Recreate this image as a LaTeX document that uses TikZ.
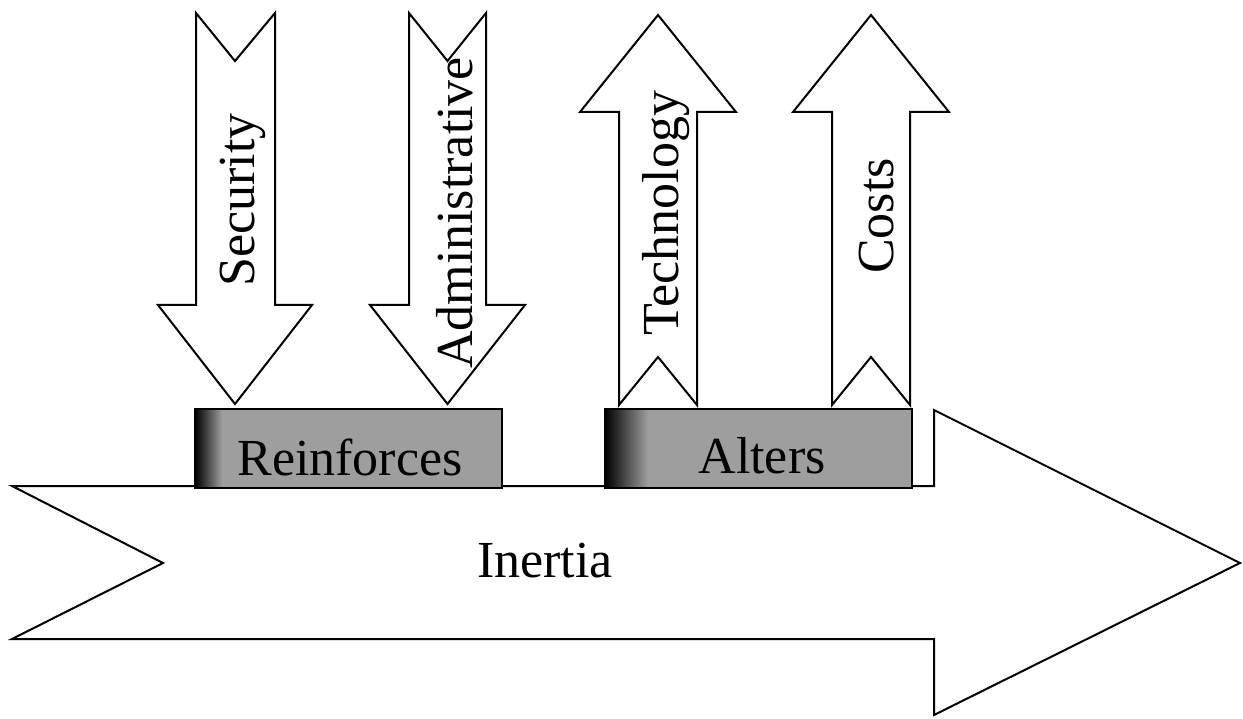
\documentclass[tikz,border=0pt]{standalone}
\usepackage{fontspec}
\setmainfont{Liberation Serif}
\begin{document}
\begin{tikzpicture}[x={(1pt,0)},y={(0,-1pt)},
  outline/.style={draw=black,line width=2pt,line join=miter,fill=white},
  labeltext/.style={font=\fontsize{52}{60}\selectfont,inner sep=0pt},
  vlabel/.style={labeltext,rotate=90},
  boxframe/.style={draw=black,line width=1.5pt,minimum width=307pt,minimum height=79pt,inner sep=0pt}]
\useasboundingbox (0,0) rectangle (1243,719);
% main Inertia arrow
\draw[outline] (12,486) -- (934,486) -- (934,410) -- (1240,563) -- (934,715)
  -- (934,639) -- (12,639) -- (163,563) -- cycle;
\node[labeltext,anchor=base] (inertia) at (545,577) {Inertia};
% boxes
\fill[black!38] (195,409) rectangle (502,488);
\shade[left color=black,right color=black!38] (195,409) rectangle (222,488);
\node[boxframe] (rbox) at (348.5,448.5) {};
\node[labeltext,anchor=base] (reinf) at (350,475) {Reinforces};
\fill[black!38] (605,409) rectangle (912,488);
\shade[left color=black,right color=black!38] (605,409) rectangle (648,488);
\node[boxframe] (abox) at (758.5,448.5) {};
\node[labeltext,anchor=base] (alters) at (762,473) {Alters};
% down arrows
\draw[outline] (196,13) -- (235,61) -- (275,13) -- (275,305) -- (312,305) -- (235,404)
  -- (158,305) -- (196,305) -- cycle;
\node[vlabel] (security) at (243,200) {Security};
\draw[outline] (409,13) -- (447.5,61) -- (486,13) -- (486,305) -- (525,305) -- (447.5,404)
  -- (370,305) -- (409,305) -- cycle;
\node[vlabel] (admin) at (455,213) {Administrative};
% up arrows
\draw[outline] (619,405) -- (658,357) -- (697,405) -- (697,112) -- (736,112) -- (658,15)
  -- (580,112) -- (619,112) -- cycle;
\node[vlabel] (tech) at (666,213) {Technology};
\draw[outline] (832,405) -- (871,357) -- (910,405) -- (910,112) -- (949,112) -- (871,15)
  -- (793,112) -- (832,112) -- cycle;
\node[vlabel] (costs) at (877,216) {Costs};
\end{tikzpicture}
\end{document}
